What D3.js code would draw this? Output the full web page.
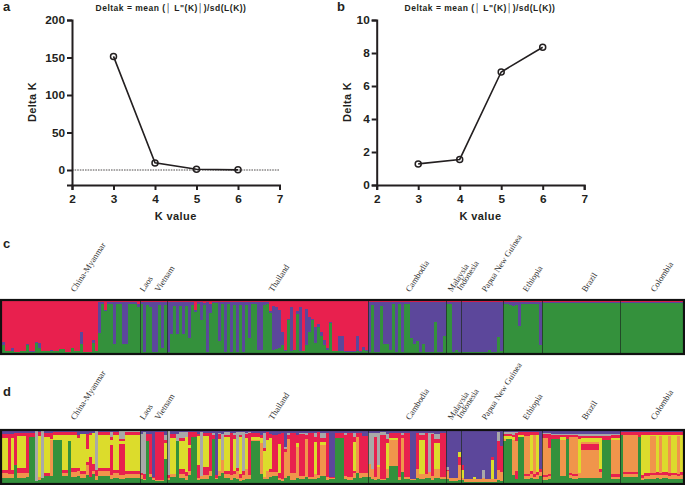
<!DOCTYPE html>
<html>
<meta charset="utf-8">
<head>
    <script src="https://d3js.org/d3.v7.min.js"></script>
    <style>
        html, body { margin: 0; padding: 0; background: #fff; }
        svg { display: block; }
        .tick text, .axisTitle { font-family: "Liberation Sans", Arial, sans-serif; font-weight: bold; fill: #231f20; }
        .axis path, .axis line { stroke: #231f20; stroke-width: 2px; }
    </style>
</head>
<body>
<svg id="fig" width="685" height="485"></svg>
<script>

// Delta K panels
var kValues = [3, 4, 5, 6];
var deltaA = [151.5, 9.5, 1, 0.2];
var deltaB = [1.28, 1.55, 6.85, 8.35];
var kTicks = [2, 3, 4, 5, 6, 7];
var yTicksA = [0, 50, 100, 150, 200];
var yTicksB = [0, 2, 4, 6, 8, 10];

// population labels over the structure plots
var popNames = ["China-Myanmar", "Laos", "Vietnam", "Thailand", "Cambodia", "Malaysia", "Indonesia", "Papua New Guinea", "Ethiopia", "Brazil", "Colombia"];
var popAnchor = [72, 141, 156, 270, 407, 449, 458, 483, 524, 583, 652];
var popRaise = [0, 0, 0, 0, 0, 0, 1.5, 0, 0, 0, 0];
// dark separators, as sample index
var separators = [46, 55, 122, 148, 153, 167, 180, 206];

// K=3 structure plot: [samples, red %, purple %, green is the rest]
var runsC = [
  // China-Myanmar
  [1,79,5],[2,97,0],[1,90,6],[2,98,0],[2,97,0],[1,82,3],[2,97,1],[1,78,3],[1,80,10],[3,97,0],[1,94,2],[1,97,0],
  [1,96,0],[1,92,1],[1,93,0],[2,98,0],[1,90,1],[2,97,0],[1,60,22],[3,98,0],[1,75,5],[1,97,0],
  [1,2,60],[1,2,3],[1,18,2],[2,2,3],[1,2,80],[2,2,3],[2,2,80],[3,2,3],[1,6,6],
  // Laos
  [1,2,3],[1,2,96],[1,2,6],[1,2,10],[2,2,96],[1,2,6],[1,2,88],[1,2,5],
  // Vietnam
  [1,2,96],[1,2,62],[1,2,8],[1,2,62],[1,2,8],[1,2,62],[1,2,8],[1,2,70],[1,2,5],[1,18,3],[1,2,3],[1,2,35],[1,4,3],[1,2,96],[1,6,18],[2,2,2],[1,2,75],[1,2,3],[1,2,96],[1,2,3],
  [1,2,96],[1,2,5],[1,2,96],[1,2,5],[1,2,96],[1,2,5],[1,2,70],[1,2,3],[1,2,3],[1,2,93],[1,2,93],[1,2,5],[1,2,3],
  // Thailand
  [1,20,3],[1,10,85],[1,12,80],[1,18,72],[1,60,25],[1,95,2],[1,35,2],[1,12,85],[1,94,0],[1,20,5],[1,12,85],[1,96,0],[1,15,70],[1,30,30],[1,35,2],[1,50,30],[1,45,5],[1,60,8],[1,75,10],[1,90,5],[1,40,2],
  [2,97,0],[2,68,28],[4,97,1],[1,68,28],[1,97,1],[1,88,6],[1,94,3],
  // Cambodia
  [1,2,96],[1,2,6],[2,2,96],[1,2,8],[2,2,80],[1,2,92],[1,2,4],[1,2,96],[1,2,4],[1,2,96],[2,2,3],[1,2,70],[1,2,80],[1,2,75],[1,2,96],[1,2,80],[3,2,96],[1,2,38],[2,2,96],[1,2,65],
  [1,2,3],[1,2,3],[1,2,96],[1,2,92],
  [1,2,96],
  // Malaysia, Indonesia, Papua New Guinea
  [4,2,97],[3,2,96],[2,2,97],[1,2,93],[2,2,97],[1,2,67],[1,2,95],
  // Ethiopia
  [2,2,3],[1,2,6],[1,2,8],[1,2,5],[1,2,47],[6,2,3],[1,2,82],
  // Brazil, Colombia
  [26,1,2],[21,1,2]
];

// K=6 structure plot: [samples, purple, grey, red, yellow, orange, red band, lower orange, green]
var runsD = [
  // China-Myanmar
  [2,5,0,8,62,0,6,10,9],[1,5,0,78,0,0,0,8,9],[1,5,0,8,62,0,8,8,9],[1,4,0,62,0,0,0,0,34],[3,4,0,6,62,0,8,10,10],[1,3,0,78,0,0,0,8,11],[2,3,0,8,0,0,0,0,89],
  [1,0,96,0,0,0,0,0,4],[1,2,0,8,78,0,0,6,6],[1,0,90,0,0,0,0,0,10],[2,3,0,8,70,0,5,0,14],[1,3,0,12,2,70,0,0,13],[3,2,0,5,10,0,0,0,83],[2,2,0,5,68,0,6,6,13],[1,2,0,5,12,0,0,0,81],
  [2,2,0,5,65,0,6,10,12],[1,8,0,5,58,0,6,10,13],[2,6,0,0,70,0,6,8,10],[1,5,0,30,25,0,5,20,15],[1,3,0,5,42,0,38,0,12],[1,3,0,0,60,0,14,5,18],[1,0,75,0,0,0,12,8,5],
  [4,2,0,5,65,0,5,10,13],[1,2,10,5,10,0,58,8,7],[2,2,0,5,68,0,6,9,10],[2,0,15,5,5,0,60,8,7],[5,0,2,5,70,0,5,9,9],
  // Laos
  [1,5,75,5,0,0,0,8,7],[1,2,80,0,0,0,10,3,5],[1,5,0,15,0,0,0,0,80],[1,5,0,78,0,0,0,5,12],[1,88,0,3,0,0,0,3,6],[3,2,0,92,0,0,0,2,4],[1,8,10,5,30,0,0,0,47],
  // Vietnam
  [1,0,85,0,0,0,5,5,5],[2,5,0,8,70,0,0,5,12],[1,5,15,0,0,0,0,0,80],[2,2,12,5,55,0,8,8,10],[1,2,10,0,66,0,8,8,6],[1,2,0,25,5,0,45,8,15],[2,2,0,10,0,0,0,0,88],[1,5,0,5,55,0,25,5,5],[1,2,85,0,0,0,0,5,8],[2,4,0,5,60,0,15,8,8],[1,4,0,8,0,0,65,10,13],[1,3,5,8,0,0,0,0,84],[1,85,0,5,0,0,0,3,7],[1,3,3,10,60,0,0,10,14],[1,5,50,0,0,0,0,25,20],[2,2,5,5,65,0,5,8,10],
  [1,3,0,82,0,0,0,10,5],[1,3,5,8,60,0,6,8,10],[1,2,70,5,0,0,0,15,8],[1,2,5,5,70,0,8,6,4],[1,2,75,0,0,0,8,10,5],[1,3,2,8,60,0,0,20,7],[1,2,2,80,0,0,0,8,8],[3,4,0,8,5,0,0,3,80],[1,8,0,5,10,60,0,0,17],[1,3,30,5,50,0,0,5,7],[1,2,0,15,60,0,0,15,8],
  // Thailand
  [1,5,0,8,60,0,5,10,12],[2,8,0,55,0,0,15,8,14],[1,5,0,20,55,0,10,5,5],[1,3,0,90,0,0,0,3,4],[1,30,5,5,0,50,0,0,10],[1,3,5,8,0,70,0,0,14],[2,3,0,78,0,0,0,14,5],[1,8,0,15,8,60,0,0,9],[2,3,2,82,0,0,0,6,7],[1,3,5,8,0,72,0,0,12],
  [2,3,0,85,0,0,0,5,7],[1,3,8,10,62,0,0,10,7],[1,2,0,82,0,0,0,6,10],[2,3,10,8,5,60,0,0,14],[1,4,0,85,0,0,0,5,6],[2,88,0,2,0,0,0,3,7],[3,3,0,10,0,0,0,0,87],[1,3,5,8,0,0,70,6,8],[2,3,0,85,0,0,0,6,6],[1,3,8,10,55,0,5,10,9],[1,4,0,8,0,68,0,0,20],[1,3,0,78,0,0,0,10,9],[2,10,0,5,0,0,65,8,12],
  // Cambodia
  [1,4,60,0,0,0,0,25,11],[1,3,70,0,0,0,0,20,7],[1,3,8,78,0,0,0,6,5],[1,3,62,0,5,0,0,22,8],[2,2,5,85,0,0,0,3,5],[1,5,10,8,50,0,0,18,9],[3,3,0,10,5,50,0,0,32],[1,3,0,85,0,0,0,6,6],[1,3,5,5,0,65,0,0,22],[2,3,0,85,0,0,0,5,7],[2,92,0,0,0,0,0,3,5],[1,3,0,70,0,0,0,18,9],[2,3,5,10,65,0,0,10,7],[1,3,0,80,0,0,0,8,9],[1,3,75,0,0,0,0,12,10],[1,4,2,80,0,0,0,8,6],[2,5,10,8,50,0,0,18,9],[2,3,0,85,0,0,0,5,7],[1,70,5,2,0,0,0,15,8],[3,90,0,0,0,0,0,6,4],[1,40,0,0,10,0,15,30,5],
  // Malaysia, Indonesia, Papua New Guinea
  [1,65,0,10,15,0,0,5,5],[3,93,0,0,0,0,0,6,1],[1,88,0,0,5,0,0,5,2],[2,92,0,0,0,0,0,7,1],[1,75,15,0,0,0,0,8,2],[2,93,0,0,0,0,0,6,1],[1,50,0,5,38,0,0,5,2],[1,92,0,0,0,0,0,7,1],[1,2,18,55,0,0,0,20,5],[1,28,0,50,0,0,0,18,4],
  // Ethiopia
  [1,2,3,5,5,0,0,5,80],[2,2,3,5,5,0,0,0,85],[1,2,5,5,5,68,0,0,15],[1,2,2,15,0,58,15,0,8],[2,2,0,5,5,0,0,0,88],[2,2,0,8,0,72,4,6,8],[1,2,0,5,70,0,6,8,9],[1,2,0,6,0,75,5,4,8],[1,2,0,5,72,0,5,8,8],[1,74,0,0,0,0,5,8,13],
  // Brazil
  [2,3,2,8,0,72,3,6,6],[1,3,2,28,0,50,4,5,8],[3,5,2,8,0,0,0,0,85],[2,5,2,5,5,65,0,5,13],[1,5,2,8,0,0,0,0,85],[1,5,2,5,0,68,5,5,10],[2,5,2,5,0,70,4,6,8],[1,5,5,5,65,0,0,10,10],[6,6,4,4,8,3,12,53,10],[1,6,4,4,60,0,5,11,10],[3,6,4,8,0,0,0,0,82],[3,5,3,5,5,65,5,4,8],
  // Colombia
  [1,2,0,5,0,0,0,0,93],[5,2,0,6,0,70,5,6,11],[1,2,0,10,0,0,0,0,88],[1,2,0,5,78,0,5,5,5],[2,2,0,5,73,0,6,6,8],[2,2,0,5,3,70,5,7,8],[1,2,0,5,72,0,6,6,9],[1,2,0,5,3,70,5,7,8],[2,2,0,5,72,0,5,7,9],[1,2,0,5,2,72,5,7,7],[2,2,0,5,73,0,5,7,8],[1,2,0,5,3,72,5,6,7],[1,2,0,5,72,0,5,8,8]
];

var redC = "#e8204e", purpleC = "#5c479b", greenC = "#34913c", yellowC = "#dcdc2c", orangeC = "#f0954b", greyC = "#a9a9a9";
var svg = d3.select("#fig");

// ++++++++++++++++++++++++++++++++++++++++++++++++++++++
//  Delta K line charts

function drawDelta(cfg) {
    var x = d3.scaleLinear().domain([2, 7]).range([cfg.left, cfg.left + 207.5]);
    var y = d3.scaleLinear().domain(cfg.yDomain).range([185, 20]);
    var pts = kValues.map(function(k, i){ return [k, cfg.values[i]]; });

    var gx = svg.append("g").attr("class", "axis").attr("transform", "translate(0,185)")
        .call(d3.axisBottom(x).tickValues(kTicks).tickFormat(d3.format("d")).tickSizeOuter(0).tickSize(5).tickPadding(5));
    var gy = svg.append("g").attr("class", "axis").attr("transform", "translate(" + cfg.left + ",0)")
        .call(d3.axisLeft(y).tickValues(cfg.yTicks).tickFormat(d3.format("d")).tickSizeOuter(0).tickSize(5).tickPadding(2));
    gx.selectAll("text").style("font-size", "11.8px");
    gy.selectAll("text").style("font-size", "11.8px");

    if (cfg.zeroLine) {
        svg.append("line")
            .attr("x1", cfg.left).attr("x2", x(7))
            .attr("y1", y(0)).attr("y2", y(0))
            .attr("stroke", "#231f20").attr("stroke-width", 0.8).attr("stroke-dasharray", "1.6,1");
    }

    svg.append("path").datum(pts)
        .attr("fill", "none").attr("stroke", "#231f20").attr("stroke-width", 1.6)
        .attr("d", d3.line().x(function(d){ return x(d[0]); }).y(function(d){ return y(d[1]); }));

    svg.selectAll(null).data(pts).enter().append("circle")
        .attr("cx", function(d){ return x(d[0]); })
        .attr("cy", function(d){ return y(d[1]); })
        .attr("r", 3)
        .attr("fill", "none").attr("stroke", "#231f20").attr("stroke-width", 1.5);

    svg.append("text").attr("class", "axisTitle")
        .attr("x", x(4.5)).attr("y", 220).attr("text-anchor", "middle")
        .style("font-size", "11px").style("letter-spacing", "0.4px").text("K value");
    svg.append("text").attr("class", "axisTitle")
        .attr("transform", "translate(" + cfg.yTitleX + ",102) rotate(-90)")
        .attr("text-anchor", "middle")
        .style("font-size", "11px").style("letter-spacing", "0.3px").text("Delta K");
    svg.append("text").attr("class", "axisTitle")
        .attr("x", cfg.titleX).attr("y", 10.5).attr("text-anchor", "middle")
        .style("font-size", "8.5px").style("letter-spacing", "0.5px")
        .text("Deltak = mean (\u2502 L\"(K)\u2502)/sd(L(K))");
    svg.append("text").attr("class", "axisTitle")
        .attr("x", cfg.letterX).attr("y", 11).style("font-size", "13px").text(cfg.letter);
}

drawDelta({left: 72, yDomain: [-20, 200], yTicks: yTicksA, values: deltaA, zeroLine: true,
    yTitleX: 36, titleX: 171, letter: "a", letterX: 3});
drawDelta({left: 376.7, yDomain: [0, 10], yTicks: yTicksB, values: deltaB, zeroLine: false,
    yTitleX: 351, titleX: 480, letter: "b", letterX: 337});

// ++++++++++++++++++++++++++++++++++++++++++++++++++++++
//  Structure bar plots

function expand(runs, toRow) {
    var rows = [];
    runs.forEach(function(r){
        for (var i = 0; i < r[0]; i++) rows.push(toRow(r));
    });
    return rows;
}

function drawStructure(cfg) {
    var rows = expand(cfg.runs, cfg.toRow);
    var x = d3.scaleLinear().domain([0, rows.length]).range([2, 683]);
    var y = d3.scaleLinear().domain([0, 1]).range([cfg.top, cfg.bottom]);
    var series = d3.stack().keys(cfg.keys).offset(d3.stackOffsetExpand)(rows);

    var g = svg.append("g").attr("shape-rendering", "crispEdges");
    g.selectAll("g").data(series).enter().append("g")
        .attr("fill", function(s){ return cfg.colors[s.index]; })
        .selectAll("rect").data(function(s){ return s; }).enter().append("rect")
        .attr("x", function(d, i){ return x(i); })
        .attr("width", function(d, i){ return x(i + 1) - x(i); })
        .attr("y", function(d){ return y(d[0]); })
        .attr("height", function(d){ return y(d[1]) - y(d[0]); });

    g.selectAll("line").data(separators).enter().append("line")
        .attr("x1", function(d){ return x(d); }).attr("x2", function(d){ return x(d); })
        .attr("y1", cfg.top).attr("y2", cfg.bottom)
        .attr("stroke", "#1d2b20").attr("stroke-opacity", 0.7).attr("stroke-width", 1);

    svg.append("rect")
        .attr("x", 1).attr("y", cfg.top - 1)
        .attr("width", 683).attr("height", cfg.bottom - cfg.top + 2)
        .attr("fill", "none").attr("stroke", "#111").attr("stroke-width", 2.2);

    svg.selectAll(null).data(popNames).enter().append("text")
        .attr("transform", function(d, i){
            return "translate(" + (popAnchor[i] + 3) + "," + (cfg.labelY - popRaise[i]) + ") rotate(-57)";
        })
        .style("font-family", "'Liberation Serif', serif")
        .style("font-size", "8.6px")
        .style("fill", "#333")
        .text(function(d){ return d; });

    svg.append("text").attr("class", "axisTitle")
        .attr("x", 3).attr("y", cfg.letterY).style("font-size", "13px").text(cfg.letter);
}

drawStructure({
    runs: runsC, top: 301, bottom: 353, labelY: 292.5, letter: "c", letterY: 248,
    keys: ["red", "purple", "green"], colors: [redC, purpleC, greenC],
    toRow: function(r){ return {red: r[1], purple: r[2], green: 100 - r[1] - r[2]}; }
});

drawStructure({
    runs: runsD, top: 431, bottom: 483, labelY: 420.5, letter: "d", letterY: 396,
    keys: ["purple", "grey", "red", "yellow", "orange", "band", "orange2", "green"],
    colors: [purpleC, greyC, redC, yellowC, orangeC, redC, orangeC, greenC],
    toRow: function(r){ return {purple: r[1], grey: r[2], red: r[3], yellow: r[4], orange: r[5], band: r[6], orange2: r[7], green: r[8]}; }
});

</script>
</body>
</html>
